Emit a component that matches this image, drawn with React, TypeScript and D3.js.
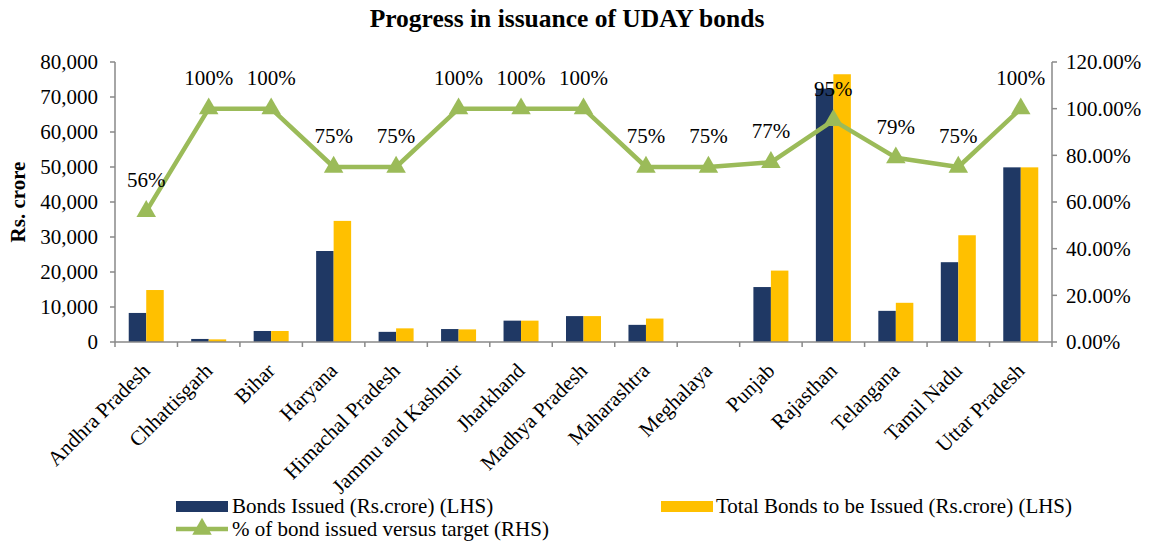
import React from 'react';
import * as d3 from 'd3';

const states = [
  'Andhra Pradesh', 'Chhattisgarh', 'Bihar', 'Haryana', 'Himachal Pradesh',
  'Jammu and Kashmir', 'Jharkhand', 'Madhya Pradesh', 'Maharashtra', 'Meghalaya',
  'Punjab', 'Rajasthan', 'Telangana', 'Tamil Nadu', 'Uttar Pradesh',
];
const bondsIssued = [8300, 870, 3150, 26000, 2900, 3700, 6100, 7400, 4900, 0, 15700, 72400, 8900, 22800, 49900];
const bondsTotal = [14850, 750, 3150, 34600, 3900, 3600, 6100, 7400, 6700, 0, 20400, 76500, 11200, 30500, 49900];
const pctIssued = [0.56, 1, 1, 0.75, 0.75, 1, 1, 1, 0.75, 0.75, 0.77, 0.95, 0.79, 0.75, 1];
const leftTicks = [0, 10000, 20000, 30000, 40000, 50000, 60000, 70000, 80000];
const rightTicks = [0, 0.2, 0.4, 0.6, 0.8, 1, 1.2];

const NAVY = '#1F3864';
const GOLD = '#FFC000';
const GREEN = '#9BBB59';
const AXIS = '#898989';
const FONT = '"Liberation Serif", "Times New Roman", serif';
const FS = 21;

export default function App() {
  const w = 1150, h = 543;
  const m = { left: 115, right: 1052, top: 62, bottom: 342 };

  const x = d3.scaleBand<string>().domain(states).range([m.left, m.right]);
  const xs = d3.scaleBand<string>().domain(['a', 'b']).range([0, 35]);
  const barOff = (x.bandwidth() - 35) / 2;
  const yL = d3.scaleLinear().domain([0, 80000]).range([m.bottom, m.top]);
  const yR = d3.scaleLinear().domain([0, 1.2]).range([m.bottom, m.top]);
  const fmt = d3.format(',');
  const pfmt = d3.format('.2%');
  const cx = (i: number) => x(states[i])! + x.bandwidth() / 2;

  const line = d3.line<number>()
    .x((d, i) => cx(i))
    .y(d => yR(d));

  const tri = d3.symbol(d3.symbolTriangle, 165)()!;

  return (
    <svg width={w} height={h} style={{ position: 'absolute', left: 0, top: 0, fontFamily: FONT }}>
      <rect width={w} height={h} fill="#fff" />
      <text x={567} y={27} textAnchor="middle" fontSize={25.5} fontWeight="bold">Progress in issuance of UDAY bonds</text>

      {/* left axis */}
      <line x1={m.left} x2={m.left} y1={m.top} y2={m.bottom} stroke={AXIS} strokeWidth={1.5} />
      {leftTicks.map(t => (
        <g key={t}>
          <line x1={m.left - 5} x2={m.left} y1={yL(t)} y2={yL(t)} stroke={AXIS} strokeWidth={1.5} />
          <text x={m.left - 17} y={yL(t)} dy="0.35em" textAnchor="end" fontSize={FS}>{fmt(t)}</text>
        </g>
      ))}
      <text transform={`translate(25,${(m.top + m.bottom) / 2}) rotate(-90)`} textAnchor="middle" fontSize={FS} fontWeight="bold">Rs. crore</text>

      {/* right axis */}
      <line x1={m.right} x2={m.right} y1={m.top} y2={m.bottom} stroke={AXIS} strokeWidth={1.5} />
      {rightTicks.map(t => (
        <g key={t}>
          <line x1={m.right} x2={m.right + 5} y1={yR(t)} y2={yR(t)} stroke={AXIS} strokeWidth={1.5} />
          <text x={m.right + 14} y={yR(t)} dy="0.35em" fontSize={FS}>{pfmt(t)}</text>
        </g>
      ))}

      {/* bars */}
      {states.map((s, i) => (
        <g key={s}>
          <rect x={x(s)! + barOff + xs('a')!} y={yL(bondsIssued[i])} width={xs.bandwidth()} height={m.bottom - yL(bondsIssued[i])} fill={NAVY} />
          <rect x={x(s)! + barOff + xs('b')!} y={yL(bondsTotal[i])} width={xs.bandwidth()} height={m.bottom - yL(bondsTotal[i])} fill={GOLD} />
        </g>
      ))}

      {/* x axis */}
      <line x1={m.left} x2={m.right} y1={m.bottom} y2={m.bottom} stroke={AXIS} strokeWidth={1.5} />
      {states.concat(['end']).map((s, i) => {
        const tx = m.left + i * x.step();
        return <line key={s} x1={tx} x2={tx} y1={m.bottom} y2={m.bottom + 5} stroke={AXIS} strokeWidth={1.5} />;
      })}
      {states.map((s, i) => (
        <text key={s} transform={`translate(${cx(i) + 5},${m.bottom + 30}) rotate(-45)`} textAnchor="end" fontSize={FS}>{s}</text>
      ))}

      {/* line */}
      <path d={line(pctIssued)!} fill="none" stroke={GREEN} strokeWidth={4.5} strokeLinejoin="round" />
      {pctIssued.map((p, i) => (
        <path key={i} d={tri} transform={`translate(${cx(i)},${yR(p)})`} fill={GREEN} />
      ))}
      {pctIssued.map((p, i) => (
        <text key={i} x={cx(i)} y={yR(p) - 24} textAnchor="middle" fontSize={FS}>{Math.round(p * 100)}%</text>
      ))}

      {/* legend */}
      <rect x={176} y={501} width={52} height={11} fill={NAVY} />
      <text x={232} y={506} dy="0.35em" fontSize={FS}>Bonds Issued (Rs.crore) (LHS)</text>
      <rect x={661} y={501} width={52} height={11} fill={GOLD} />
      <text x={716} y={506} dy="0.35em" fontSize={FS}>Total Bonds to be Issued (Rs.crore) (LHS)</text>
      <line x1={176} x2={228} y1={529} y2={529} stroke={GREEN} strokeWidth={4.5} />
      <path d={tri} transform="translate(202,529)" fill={GREEN} />
      <text x={232} y={529} dy="0.35em" fontSize={FS}>% of bond issued versus target (RHS)</text>
    </svg>
  );
}
